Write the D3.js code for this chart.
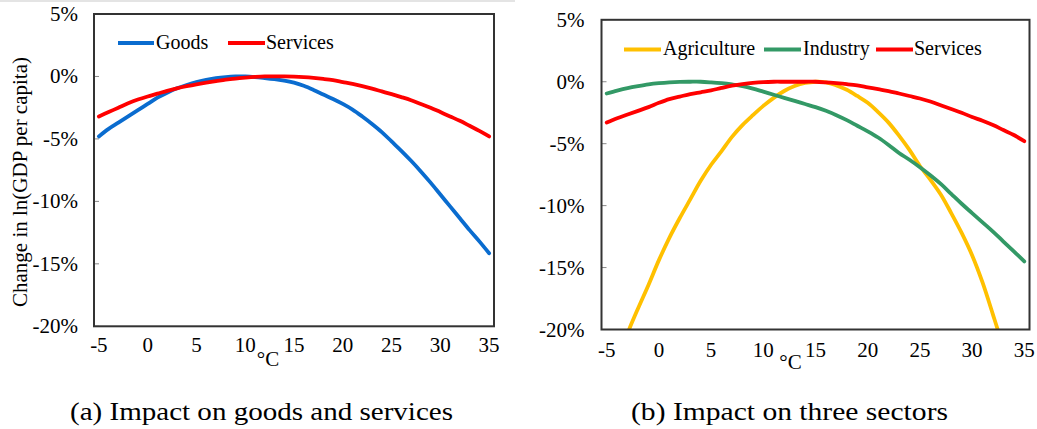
<!DOCTYPE html>
<html><head><meta charset="utf-8">
<script src="https://cdn.jsdelivr.net/npm/d3@7"></script>
<style>
html,body{margin:0;padding:0;background:#fff;}
</style>
</head><body>
<svg id="c" width="1037" height="429"></svg>
<script>
// ---------- DATA ----------
const temperatures = [-5,-4,-3,-2,-1,0,1,2,3,4,5,6,7,8,9,10,11,12,13,14,15,16,17,18,19,20,21,22,23,24,25,26,27,28,29,30,31,32,33,34,35];
const xTickLabels = [-5,0,5,10,15,20,25,30,35];
const yTickValues = [5,0,-5,-10,-15,-20];
const yTickLabels = ["5%","0%","-5%","-10%","-15%","-20%"];

// Panel (a)
const goodsA = [-4.8,-4.2,-3.7,-3.2,-2.7,-2.2,-1.7,-1.3,-0.95,-0.68,-0.45,-0.28,-0.14,-0.05,0,0,-0.05,-0.13,-0.22,-0.33,-0.5,-0.75,-1.08,-1.45,-1.8,-2.2,-2.65,-3.2,-3.8,-4.45,-5.2,-5.95,-6.75,-7.6,-8.5,-9.45,-10.4,-11.35,-12.3,-13.2,-14.15];
const servicesA = [-3.2,-2.85,-2.5,-2.15,-1.85,-1.6,-1.38,-1.15,-0.95,-0.78,-0.63,-0.5,-0.38,-0.26,-0.17,-0.1,-0.04,0,0,0,-0.02,-0.06,-0.12,-0.2,-0.3,-0.45,-0.6,-0.78,-0.98,-1.2,-1.42,-1.65,-1.9,-2.2,-2.5,-2.85,-3.2,-3.55,-3.95,-4.35,-4.8];

// Panel (b)
const agricultureB = [-25,-22.6,-20.3,-18.3,-16.4,-14.4,-12.6,-11.0,-9.5,-8.0,-6.7,-5.6,-4.45,-3.5,-2.7,-1.95,-1.3,-0.75,-0.35,-0.1,0,-0.05,-0.3,-0.65,-1.15,-1.7,-2.45,-3.3,-4.35,-5.5,-6.8,-7.9,-9.1,-10.6,-12.2,-14.0,-16.2,-18.8,-21.5,-24.5,-27.5];
const industryB = [-0.95,-0.72,-0.52,-0.36,-0.22,-0.12,-0.05,-0.01,0,0,-0.05,-0.12,-0.22,-0.35,-0.55,-0.8,-1.05,-1.3,-1.55,-1.8,-2.05,-2.35,-2.7,-3.1,-3.55,-4.0,-4.5,-5.1,-5.75,-6.3,-6.9,-7.55,-8.25,-9.05,-9.85,-10.6,-11.35,-12.1,-12.9,-13.7,-14.5];
const servicesB = [-3.3,-2.95,-2.65,-2.35,-2.05,-1.7,-1.4,-1.2,-1.0,-0.85,-0.7,-0.5,-0.32,-0.2,-0.1,-0.03,0,0,0,0,0,-0.05,-0.12,-0.2,-0.3,-0.45,-0.6,-0.75,-0.95,-1.15,-1.35,-1.6,-1.9,-2.2,-2.5,-2.85,-3.15,-3.5,-3.9,-4.3,-4.8];

const seriesNamesA = ["Goods","Services"];
const seriesNamesB = ["Agriculture","Industry","Services"];
const captions = ["(a) Impact on goods and services","(b) Impact on three sectors"];
const yAxisTitle = "Change in ln(GDP per capita)";
const xUnit = "\u00B0C";

// ---------- STYLE / LAYOUT ----------
const colors = {Goods:"#0a6ccf", Services:"#ff0000", Agriculture:"#ffc000", Industry:"#339966"};
const FS = 20, TICKFS = 21;
const FONT = "'Liberation Serif', 'Times New Roman', Times, serif";

const panels = [
  {id:"a", left:94, right:494, top:14, bottom:326.3, ylabX:78, xTickBase:352, degX:268, degBase:365.7,
   capX0:70, capX1:453, capBase:419.5, legendBase:48.5,
   legendPos:[{x0:118,x1:154,tx:156},{x0:228,x1:265,tx:266}],
   series:[{name:seriesNamesA[0], values:goodsA},{name:seriesNamesA[1], values:servicesA}], yTitle:true},
  {id:"b", left:601.5, right:1029.5, top:19.8, bottom:329.5, ylabX:584.5, xTickBase:356.7, degX:790.5, degBase:369.3,
   capX0:631, capX1:948, capBase:420, legendBase:55,
   legendPos:[{x0:624,x1:661,tx:663},{x0:764,x1:801,tx:803},{x0:876,x1:913,tx:914}],
   series:[{name:seriesNamesB[0], values:agricultureB},{name:seriesNamesB[1], values:industryB},{name:seriesNamesB[2], values:servicesB}], yTitle:false}
];

const svg = d3.select("#c");
svg.append("rect").attr("width",1037).attr("height",429).attr("fill","#fff");
svg.append("line").attr("x1",0).attr("x2",515).attr("y1",1).attr("y2",1).attr("stroke","#e4e4e4").attr("stroke-width",2);

function txt(sel, fs){ return sel.attr("font-family",FONT).attr("font-size",fs||FS).attr("fill","#000"); }

panels.forEach((p,pi) => {
  const x = d3.scalePoint().domain(temperatures).range([p.left,p.right]).padding(0.5);
  const y = d3.scaleLinear().domain([-20,5]).range([p.bottom,p.top]);
  const g = svg.append("g");

  const clipId = "clip"+p.id;
  g.append("clipPath").attr("id",clipId).append("rect")
    .attr("x",p.left).attr("y",p.top).attr("width",p.right-p.left).attr("height",p.bottom-p.top);

  g.selectAll("line.yt").data(yTickValues).enter().append("line")
    .attr("x1",p.left).attr("x2",p.left+5)
    .attr("y1",d=>y(d)).attr("y2",d=>y(d))
    .attr("stroke","#888").attr("stroke-width",1);

  txt(g.selectAll("text.yl").data(yTickValues).enter().append("text"), TICKFS)
    .attr("x",p.ylabX).attr("y",d=>y(d)+7)
    .attr("text-anchor","end")
    .text((d,i)=>yTickLabels[i]);

  txt(g.selectAll("text.xl").data(xTickLabels).enter().append("text"), TICKFS)
    .attr("x",d=>x(d)).attr("y",p.xTickBase)
    .attr("text-anchor","middle")
    .text(d=>d);

  txt(g.append("text"), TICKFS).attr("x",p.degX).attr("y",p.degBase).attr("text-anchor","middle").text(xUnit);

  const line = d3.line().x((d,i)=>x(temperatures[i])).y(d=>y(d)).curve(d3.curveCatmullRom.alpha(0.5));
  const lg = g.append("g").attr("clip-path",`url(#${clipId})`);
  p.series.forEach(s => {
    lg.append("path").attr("d",line(s.values)).attr("fill","none")
      .attr("stroke",colors[s.name]).attr("stroke-width",3.8).attr("stroke-linejoin","round").attr("stroke-linecap","round");
  });

  g.append("rect").attr("x",p.left).attr("y",p.top).attr("width",p.right-p.left).attr("height",p.bottom-p.top)
    .attr("fill","none").attr("stroke","#333").attr("stroke-width",2);

  p.series.forEach((s,i) => {
    const lp = p.legendPos[i];
    g.append("line").attr("x1",lp.x0).attr("x2",lp.x1).attr("y1",p.legendBase-5.5).attr("y2",p.legendBase-5.5)
      .attr("stroke",colors[s.name]).attr("stroke-width",3.8);
    txt(g.append("text")).attr("x",lp.tx).attr("y",p.legendBase).text(s.name);
  });

  if (p.yTitle) {
    txt(g.append("text"), 21).attr("transform","translate(27,182) rotate(-90)").attr("text-anchor","middle").text(yAxisTitle);
  }

  txt(g.append("text"), 26).attr("x",p.capX0).attr("y",p.capBase)
    .attr("textLength",p.capX1-p.capX0).attr("lengthAdjust","spacingAndGlyphs")
    .text(captions[pi]);
});
</script>
</body></html>
